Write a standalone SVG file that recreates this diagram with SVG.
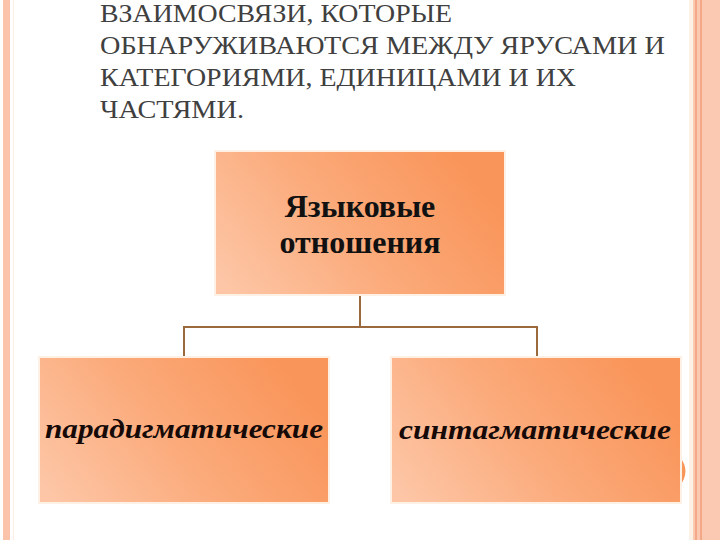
<svg xmlns="http://www.w3.org/2000/svg" width="720" height="540" viewBox="0 0 720 540">
<defs>
<linearGradient id="g" x1="0" y1="0.85" x2="1" y2="0.45">
<stop offset="0" stop-color="#fdc6a6"/>
<stop offset="0.5" stop-color="#fbaa7a"/>
<stop offset="1" stop-color="#f9955a"/>
</linearGradient>
<style>
.box{fill:url(#g);stroke:#fdf0e4;stroke-width:2}
.conn{fill:none;stroke:#9b6a3c;stroke-width:2}
.lbl{font-family:"Liberation Serif","Times New Roman",serif;font-weight:bold;fill:#111;text-anchor:middle}
.it{font-family:"Liberation Serif","Times New Roman",serif;font-style:italic;font-weight:bold;fill:#160a08;text-anchor:middle}
</style>
</defs>
<rect width="720" height="540" fill="#ffffff"/>
<!-- borders -->
<rect x="3" y="0" width="7" height="540" fill="#fbc3aa"/>
<rect x="13" y="0" width="1" height="540" fill="#fdeee4"/>
<rect x="689" y="0" width="4" height="540" fill="#fdf1e6"/>
<rect x="693" y="0" width="27" height="540" fill="#fbc8b2"/>
<rect x="695" y="0" width="2" height="540" fill="#f4a888"/>
<rect x="700" y="0" width="2" height="540" fill="#f4a888"/>
<!-- title -->
<g id="title" font-family="'Liberation Serif', 'Times New Roman', serif" font-size="25" fill="#404040">
<text x="100" y="22" textLength="352" lengthAdjust="spacingAndGlyphs">ВЗАИМОСВЯЗИ, КОТОРЫЕ</text>
<text x="100" y="54" textLength="565" lengthAdjust="spacingAndGlyphs">ОБНАРУЖИВАЮТСЯ МЕЖДУ ЯРУСАМИ И</text>
<text x="100" y="86" textLength="476" lengthAdjust="spacingAndGlyphs">КАТЕГОРИЯМИ, ЕДИНИЦАМИ И ИХ</text>
<text x="100" y="118" textLength="144" lengthAdjust="spacingAndGlyphs">ЧАСТЯМИ.</text>
</g>
<!-- connectors -->
<g id="connectors">
<path class="conn" d="M360 295 V327 M184 357 V327 H537 V357"/>
</g>
<g id="root">
<rect class="box" x="215" y="151" width="290" height="144"/>
<text class="lbl" x="360" y="217" font-size="32">Языковые</text>
<text class="lbl" x="360" y="253" font-size="32">отношения</text>
</g>
<g id="paradigm">
<rect class="box" x="39" y="357" width="290" height="146"/>
<text class="it" x="184" y="438" font-size="28" textLength="278" lengthAdjust="spacingAndGlyphs">парадигматические</text>
</g>
<g id="syntagm">
<path d="M679 456 Q692 471 679 487 Z" fill="#f9965a"/>
<rect class="box" x="391" y="357" width="290" height="146"/>
<text class="it" x="535" y="439" font-size="28" textLength="272" lengthAdjust="spacingAndGlyphs">синтагматические</text>
</g>
</svg>
